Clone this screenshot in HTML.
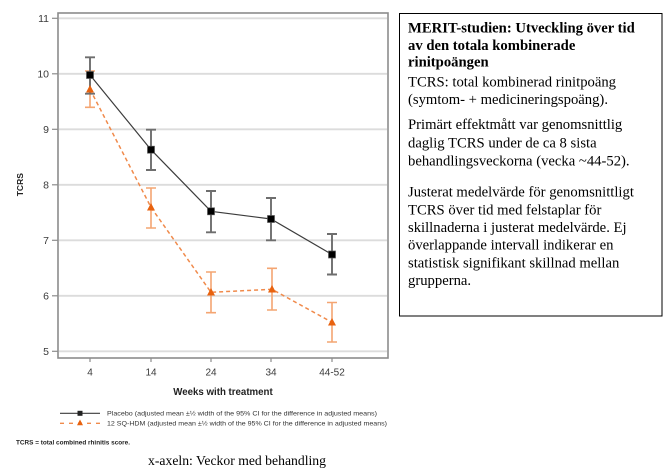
<!DOCTYPE html>
<html>
<head>
<meta charset="utf-8">
<style>
html,body{margin:0;padding:0;background:#fff;}
svg{display:block;}
</style>
</head>
<body>
<svg width="664" height="469" viewBox="0 0 664 469" xmlns="http://www.w3.org/2000/svg">
  <rect width="664" height="469" fill="#fff"/>

  <!-- gridlines -->
  <g stroke="#dcdcdc" stroke-width="1.8">
    <line x1="59" y1="18.3" x2="387" y2="18.3"/>
    <line x1="59" y1="73.8" x2="387" y2="73.8"/>
    <line x1="59" y1="129.3" x2="387" y2="129.3"/>
    <line x1="59" y1="184.8" x2="387" y2="184.8"/>
    <line x1="59" y1="240.3" x2="387" y2="240.3"/>
    <line x1="59" y1="295.8" x2="387" y2="295.8"/>
    <line x1="59" y1="351.3" x2="387" y2="351.3"/>
  </g>

  <!-- frame -->
  <rect x="58" y="13" width="330" height="345" fill="none" stroke="#8c8c8c" stroke-width="1.6"/>

  <!-- y ticks -->
  <g stroke="#8c8c8c" stroke-width="1.2">
    <line x1="52" y1="18.3" x2="58" y2="18.3"/>
    <line x1="52" y1="73.8" x2="58" y2="73.8"/>
    <line x1="52" y1="129.3" x2="58" y2="129.3"/>
    <line x1="52" y1="184.8" x2="58" y2="184.8"/>
    <line x1="52" y1="240.3" x2="58" y2="240.3"/>
    <line x1="52" y1="295.8" x2="58" y2="295.8"/>
    <line x1="52" y1="351.3" x2="58" y2="351.3"/>
    <!-- x ticks -->
    <line x1="90" y1="358" x2="90" y2="362"/>
    <line x1="151" y1="358" x2="151" y2="362"/>
    <line x1="211" y1="358" x2="211" y2="362"/>
    <line x1="271" y1="358" x2="271" y2="362"/>
    <line x1="332" y1="358" x2="332" y2="362"/>
  </g>

  <!-- y tick labels -->
  <g font-family="Liberation Sans, Arial, sans-serif" font-size="10.5" fill="#3a3a3a" text-anchor="end">
    <text x="49" y="22">11</text>
    <text x="49" y="77.5">10</text>
    <text x="49" y="133">9</text>
    <text x="49" y="188.5">8</text>
    <text x="49" y="244">7</text>
    <text x="49" y="299.5">6</text>
    <text x="49" y="355">5</text>
  </g>

  <!-- x tick labels -->
  <g font-family="Liberation Sans, Arial, sans-serif" font-size="10" fill="#3a3a3a" text-anchor="middle">
    <text x="90" y="375.7">4</text>
    <text x="151" y="375.7">14</text>
    <text x="211" y="375.7">24</text>
    <text x="271" y="375.7">34</text>
    <text x="332" y="375.7">44-52</text>
  </g>

  <!-- axis titles -->
  <text x="223" y="395" font-family="Liberation Sans, Arial, sans-serif" font-size="9.7" font-weight="bold" fill="#222" text-anchor="middle">Weeks with treatment</text>
  <text transform="translate(23,184.7) rotate(-90)" x="0" y="0" font-family="Liberation Sans, Arial, sans-serif" font-size="8.5" font-weight="bold" fill="#222" text-anchor="middle">TCRS</text>

  <!-- orange error bars -->
  <g stroke="#f4a572" stroke-width="1.6" fill="none">
    <path d="M90 71V107.3M85 71H95M85 107.3H95"/>
    <path d="M151 188V228M146 188H156M146 228H156"/>
    <path d="M211 272V312.7M206 272H216M206 312.7H216"/>
    <path d="M272 268.3V310M267 268.3H277M267 310H277"/>
    <path d="M332 302.5V342M327 302.5H337M327 342H337"/>
  </g>

  <!-- placebo error bars -->
  <g stroke="#6e6e6e" stroke-width="1.9" fill="none">
    <path d="M90 57.3V93.7M85 57.3H95M85 93.7H95"/>
    <path d="M151 129.7V170M146 129.7H156M146 170H156"/>
    <path d="M211 191V232.3M206 191H216M206 232.3H216"/>
    <path d="M271 198V240.3M266 198H276M266 240.3H276"/>
    <path d="M332 234V274.5M327 234H337M327 274.5H337"/>
  </g>

  <!-- orange dashed line -->
  <polyline points="90,89.3 151,207.3 211,292.3 272,289.3 332,322.3" fill="none" stroke="#f08a4b" stroke-width="1.5" stroke-dasharray="4,3"/>
  <!-- placebo line -->
  <polyline points="90,75 151,149.7 211,211.3 271,219 332,254.5" fill="none" stroke="#3c3c3c" stroke-width="1.2"/>

  <!-- orange markers -->
  <g fill="#e8620f">
    <polygon points="90,85 94,92.5 86,92.5"/>
    <polygon points="151,203 155,210.5 147,210.5"/>
    <polygon points="211,288 215,295.5 207,295.5"/>
    <polygon points="272,285 276,292.5 268,292.5"/>
    <polygon points="332,318 336,325.5 328,325.5"/>
  </g>
  <!-- placebo markers -->
  <g fill="#000" stroke="#555" stroke-width="0.7">
    <rect x="86.5" y="71.5" width="7" height="7"/>
    <rect x="147.5" y="146.2" width="7" height="7"/>
    <rect x="207.5" y="207.8" width="7" height="7"/>
    <rect x="267.5" y="215.5" width="7" height="7"/>
    <rect x="328.5" y="251" width="7" height="7"/>
  </g>

  <!-- legend -->
  <line x1="60" y1="413.3" x2="100" y2="413.3" stroke="#3c3c3c" stroke-width="1.2"/>
  <rect x="77.5" y="410.8" width="5" height="5" fill="#222"/>
  <line x1="60" y1="423.3" x2="100" y2="423.3" stroke="#f08a4b" stroke-width="1.3" stroke-dasharray="4,5"/>
  <polygon points="80,419.5 83,425.3 77,425.3" fill="#e8620f"/>
  <g font-family="Liberation Sans, Arial, sans-serif" font-size="6.6" fill="#333">
    <text x="107" y="415.6" textLength="270" lengthAdjust="spacingAndGlyphs">Placebo (adjusted mean ±½ width of the 95% CI for the difference in adjusted means)</text>
    <text x="107" y="425.6" textLength="280" lengthAdjust="spacingAndGlyphs">12 SQ-HDM (adjusted mean ±½ width of the 95% CI for the difference in adjusted means)</text>
    <text x="16" y="444.3" font-weight="bold" fill="#222" textLength="114" lengthAdjust="spacingAndGlyphs">TCRS = total combined rhinitis score.</text>
  </g>

  <!-- caption -->
  <text x="148" y="465" font-family="Liberation Serif, 'Times New Roman', serif" font-size="13.5" fill="#000" textLength="178" lengthAdjust="spacingAndGlyphs">x-axeln: Veckor med behandling</text>

  <!-- right text box -->
  <rect x="399.5" y="13.5" width="262.5" height="302.5" fill="#fff" stroke="#000" stroke-width="1"/>
  <g font-family="Liberation Serif, 'Times New Roman', serif" font-size="14.67" fill="#000">
    <g font-weight="bold">
      <text x="408" y="32.3">MERIT-studien: Utveckling över tid</text>
      <text x="408" y="49.8">av den totala kombinerade</text>
      <text x="408" y="66.3">rinitpoängen</text>
    </g>
    <text x="408" y="86.3">TCRS: total kombinerad rinitpoäng</text>
    <text x="408" y="103.8">(symtom- + medicineringspoäng).</text>
    <text x="408" y="128.8">Primärt effektmått var genomsnittlig</text>
    <text x="408" y="147.3">daglig TCRS under de ca 8 sista</text>
    <text x="408" y="165.3">behandlingsveckorna (vecka ~44-52).</text>
    <text x="408" y="196.3">Justerat medelvärde för genomsnittligt</text>
    <text x="408" y="214.3">TCRS över tid med felstaplar för</text>
    <text x="408" y="231.8">skillnaderna i justerat medelvärde. Ej</text>
    <text x="408" y="249.5">överlappande intervall indikerar en</text>
    <text x="408" y="267.3">statistisk signifikant skillnad mellan</text>
    <text x="408" y="284.8">grupperna.</text>
  </g>
</svg>
</body>
</html>
